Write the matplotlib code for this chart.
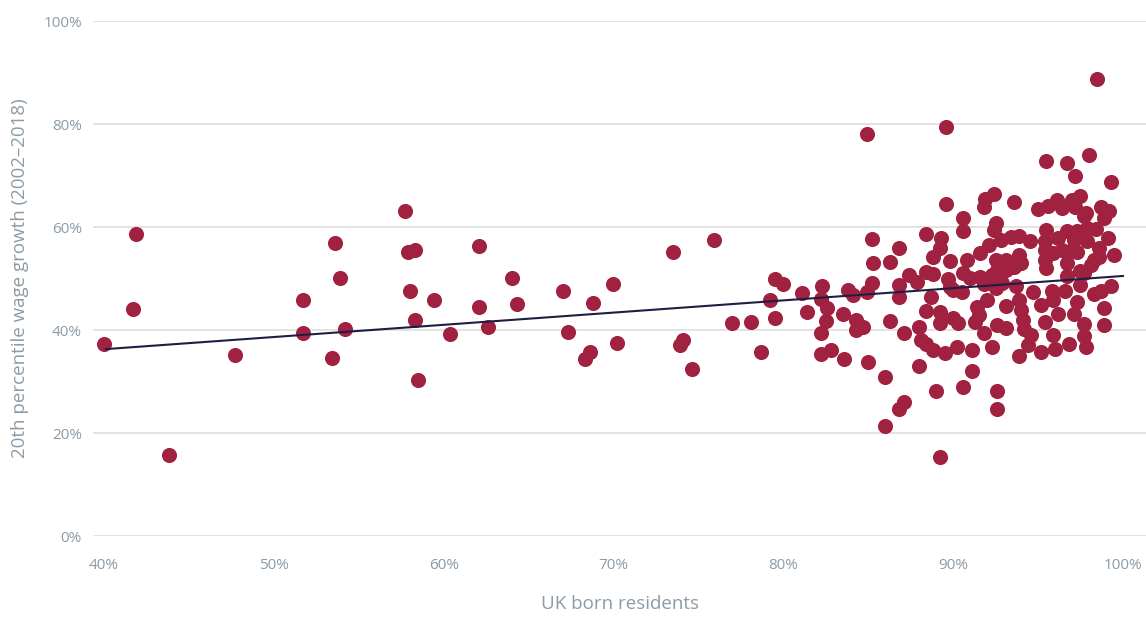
import matplotlib
matplotlib.use('Agg')

import matplotlib.pyplot as plt
from matplotlib.ticker import FuncFormatter

# share of UK born residents (%) and 20th percentile wage growth 2002-2018 (%)
points = [
    (40.0, 37.2), (41.9, 58.6), (41.7, 44.1), (43.8, 15.8), (47.7, 35.2),
    (51.7, 45.8), (51.7, 39.5), (53.6, 56.9), (53.9, 50.2), (53.4, 34.5),
    (54.2, 40.2), (57.7, 63.1), (57.9, 55.1), (58.3, 55.5), (58.0, 47.6),
    (58.3, 41.9), (58.5, 30.3), (59.4, 45.8), (60.4, 39.2), (62.1, 56.4),
    (62.1, 44.5), (62.6, 40.6), (64.0, 50.2), (64.3, 45.0), (67.0, 47.6),
    (67.3, 39.6), (68.3, 34.4), (68.6, 35.7), (68.8, 45.3), (70.0, 48.9),
    (70.2, 37.5), (73.5, 55.1), (73.9, 37.1), (74.1, 38.0), (74.6, 32.5),
    (75.9, 57.4), (77.0, 41.4), (78.1, 41.5), (78.7, 35.7), (79.2, 45.8),
    (79.5, 42.3), (79.5, 49.9), (80.0, 48.9), (81.1, 47.2), (81.4, 43.6),
    (82.3, 48.5), (82.2, 46.0), (82.6, 44.2), (82.5, 41.7), (82.2, 39.5),
    (82.2, 35.3), (82.8, 36.1), (83.5, 43.2), (83.6, 34.4), (83.8, 47.8),
    (84.1, 46.8), (84.3, 41.9), (84.3, 40.0), (84.7, 40.6), (85.0, 33.8),
    (84.9, 47.4), (85.3, 53.0), (85.2, 57.6), (84.9, 78.0), (89.6, 79.5),
    (89.6, 64.4), (86.3, 53.3), (86.8, 56.0), (88.4, 58.6), (89.3, 57.9),
    (89.2, 55.9), (88.8, 54.1), (89.8, 53.4), (85.2, 49.2), (86.8, 48.7),
    (87.4, 50.7), (87.9, 49.4), (88.4, 51.3), (88.8, 50.8), (89.7, 49.9),
    (89.8, 48.4), (88.7, 46.5), (86.8, 46.5), (86.0, 30.8), (86.3, 41.7),
    (87.1, 39.5), (86.8, 24.7), (87.1, 26.0), (86.0, 21.4), (88.0, 40.6),
    (88.1, 38.1), (88.4, 37.2), (88.8, 36.1), (88.0, 33.0), (88.4, 43.7),
    (89.2, 43.6), (89.2, 41.3), (89.5, 35.6), (89.0, 28.2), (89.2, 15.4),
    (90.0, 42.3), (90.2, 36.8), (90.6, 29.0), (90.6, 61.7), (90.6, 59.2),
    (91.8, 63.9), (91.9, 65.5), (90.8, 53.6), (91.6, 55.0), (92.1, 56.6),
    (90.0, 47.8), (90.5, 47.3), (90.6, 51.0), (91.0, 50.2), (91.6, 50.3),
    (92.3, 50.7), (91.8, 48.9), (95.5, 72.8), (96.7, 72.4), (98.0, 74.0),
    (97.2, 70.0), (99.3, 68.8), (92.4, 66.5), (93.6, 64.8), (95.0, 63.6),
    (95.6, 64.0), (96.1, 65.2), (96.4, 63.7), (97.0, 65.3), (97.5, 66.1),
    (97.2, 63.8), (97.8, 62.8), (97.7, 62.2), (98.7, 63.8), (99.2, 63.2),
    (98.9, 61.8), (92.5, 60.8), (92.4, 59.4), (95.5, 59.4), (96.7, 59.2),
    (97.3, 59.2), (97.9, 59.8), (98.4, 59.7), (99.1, 57.8), (92.8, 57.5),
    (93.4, 58.1), (93.9, 58.2), (94.5, 57.3), (95.4, 57.2), (96.2, 57.8),
    (97.1, 57.5), (97.9, 57.2), (95.4, 55.5), (95.9, 54.9), (96.4, 55.5),
    (97.0, 55.5), (97.3, 55.2), (98.6, 55.9), (99.5, 54.6), (98.6, 54.1),
    (92.5, 53.6), (93.1, 53.6), (93.9, 54.6), (94.0, 53.0), (92.6, 51.7),
    (93.1, 51.7), (93.6, 52.2), (95.4, 53.6), (96.7, 53.0), (95.5, 52.1),
    (96.7, 50.4), (97.5, 51.4), (98.1, 52.6), (98.3, 53.6), (97.7, 51.0),
    (97.5, 48.7), (99.3, 48.5), (98.7, 47.5), (98.3, 47.0), (95.8, 47.5),
    (96.6, 47.5), (94.7, 47.4), (93.7, 48.5), (92.6, 50.4), (92.5, 48.2),
    (92.9, 49.1), (90.3, 41.4), (91.4, 44.5), (91.5, 42.9), (91.3, 41.6),
    (92.0, 45.8), (91.8, 39.4), (93.1, 44.7), (92.6, 40.9), (93.1, 40.4),
    (93.9, 45.8), (94.0, 43.9), (94.1, 41.9), (94.2, 40.3), (94.6, 39.0),
    (94.4, 37.1), (93.9, 35.0), (95.2, 44.9), (95.4, 41.6), (95.9, 45.8),
    (96.2, 43.2), (95.9, 39.0), (96.0, 36.4), (95.2, 35.7), (96.8, 37.3),
    (97.3, 45.5), (97.1, 43.2), (97.7, 41.2), (97.7, 38.9), (97.8, 36.8),
    (98.9, 44.2), (98.9, 41.0), (91.1, 36.1), (92.3, 36.8), (91.1, 32.1),
    (92.6, 28.2), (92.6, 24.6), (98.5, 88.7),
]
uk_born = [p[0] for p in points]
wage_growth = [p[1] for p in points]

# trend line
trend_x = [40.1, 100.0]
trend_y = [36.3, 50.5]

y_ticks = [0, 20, 40, 60, 80, 100]
x_ticks = [40, 50, 60, 70, 80, 90, 100]

grey = '#8C9BA5'

plt.rcParams['font.family'] = ['Open Sans', 'DejaVu Sans']

fig = plt.figure(figsize=(11.46, 6.19), dpi=100)
ax = fig.add_axes([0.0812, 0.134, 0.9188, 0.832])

ax.scatter(uk_born, wage_growth, s=118, color='#A02140', linewidths=0, zorder=3)
ax.plot(trend_x, trend_y, color='#1E1E45', linewidth=1.5, zorder=4)

ax.set_xlim(39.35, 101.36)
ax.set_ylim(0, 100)
ax.set_yticks(y_ticks)
ax.set_xticks(x_ticks)
pct = FuncFormatter(lambda v, pos: '%d%%' % v)
ax.xaxis.set_major_formatter(pct)
ax.yaxis.set_major_formatter(pct)

ax.grid(axis='y', color='#DEDEDE', linewidth=1.2, zorder=0)
ax.set_axisbelow(True)
for s in ax.spines.values():
    s.set_visible(False)
ax.tick_params(axis='both', length=0, labelsize=11, colors=grey)
ax.tick_params(axis='y', pad=8)
ax.tick_params(axis='x', pad=16)

ax.set_xlabel('UK born residents', fontsize=13.5, color=grey, labelpad=16)
ax.set_ylabel('20th percentile wage growth (2002–2018)', fontsize=13.5, color=grey, labelpad=10)

plt.savefig('out.png', dpi=100)
